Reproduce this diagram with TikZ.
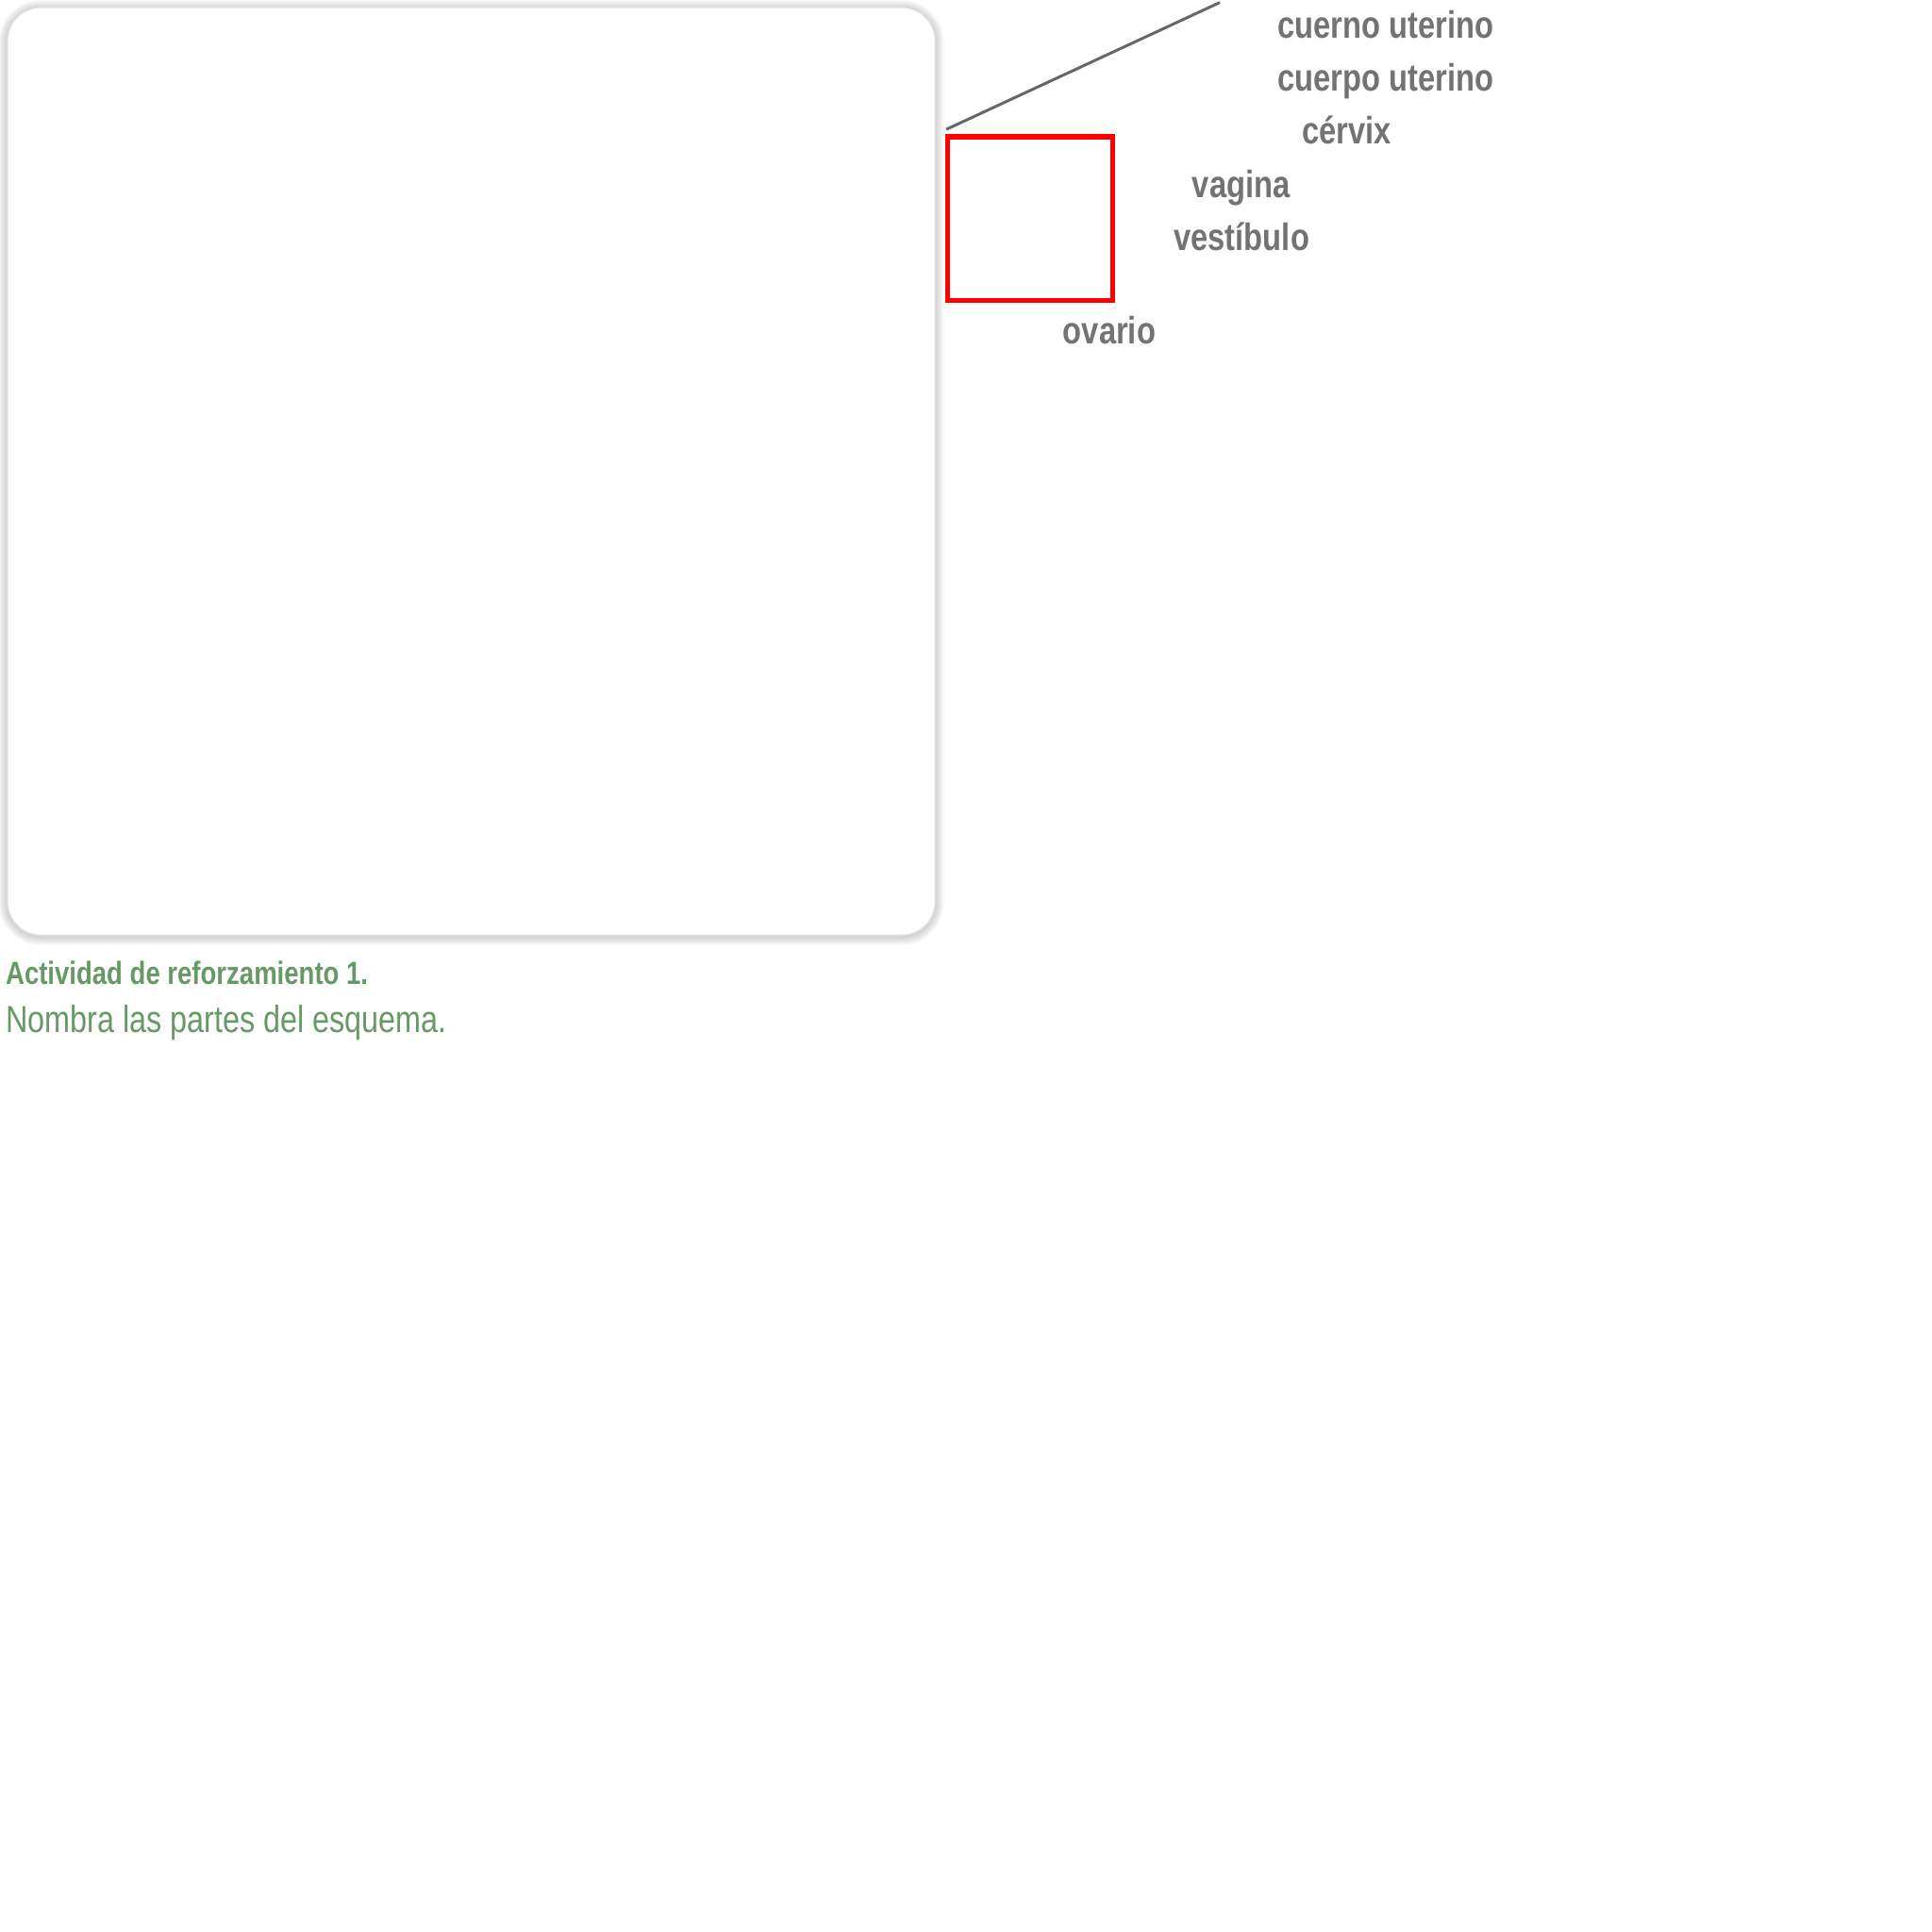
\documentclass[tikz,border=0pt]{standalone}
\usepackage{fontspec}
\setmainfont{Liberation Sans}
\newfontfamily\narrowfont[FakeStretch=0.81]{Liberation Sans}
\definecolor{labelgray}{HTML}{737373}
\definecolor{linegray}{HTML}{666666}
\definecolor{taskgreen}{HTML}{659A65}
\tikzset{
  part/.style={anchor=base west, inner sep=0pt, text=labelgray, font=\narrowfont\bfseries\fontsize{8.8}{10}\selectfont},
  tasktitle/.style={anchor=base west, inner sep=0pt, text=taskgreen, font=\narrowfont\bfseries\fontsize{7.4}{9}\selectfont},
  tasktext/.style={anchor=base west, inner sep=0pt, text=taskgreen, font=\narrowfont\fontsize{8.7}{10}\selectfont},
}

\begin{document}
\begin{tikzpicture}[x=0.01cm, y=-0.01cm]
\useasboundingbox (0,0) rectangle (1568,1568);
\foreach \w in {1,...,8} \draw[black, opacity=0.025, line width=\w*0.5pt, rounded corners=7.7pt] (6,7) rectangle (759,760); % soft shadow
\draw[gray!25, fill=white, line width=0.3pt, rounded corners=7.7pt] (6,6) rectangle (759,759); % picture frame
\coordinate (lineA) at (768,105);
\coordinate (lineB) at (990,2);
\draw[linegray, line width=0.65pt] (lineA) -- (lineB); % pointer line
\draw[red, line width=1.1pt] (769,111) rectangle (903,244); % answer box
\node[part] (horn) at (1036,31) {cuerno uterino};
\node[part] (body) at (1036,74) {cuerpo uterino};
\node[part] (cervix) at (1056,117) {cérvix};
\node[part] (vagina) at (967,160) {vagina};
\node[part] (vestibule) at (952,203) {vestíbulo};
\node[part] (ovary) at (862,279) {ovario};
\node[tasktitle] (title) at (4,799) {Actividad de reforzamiento 1.};
\node[tasktext] (task) at (4,838) {Nombra las partes del esquema.};
\end{tikzpicture}
\end{document}
